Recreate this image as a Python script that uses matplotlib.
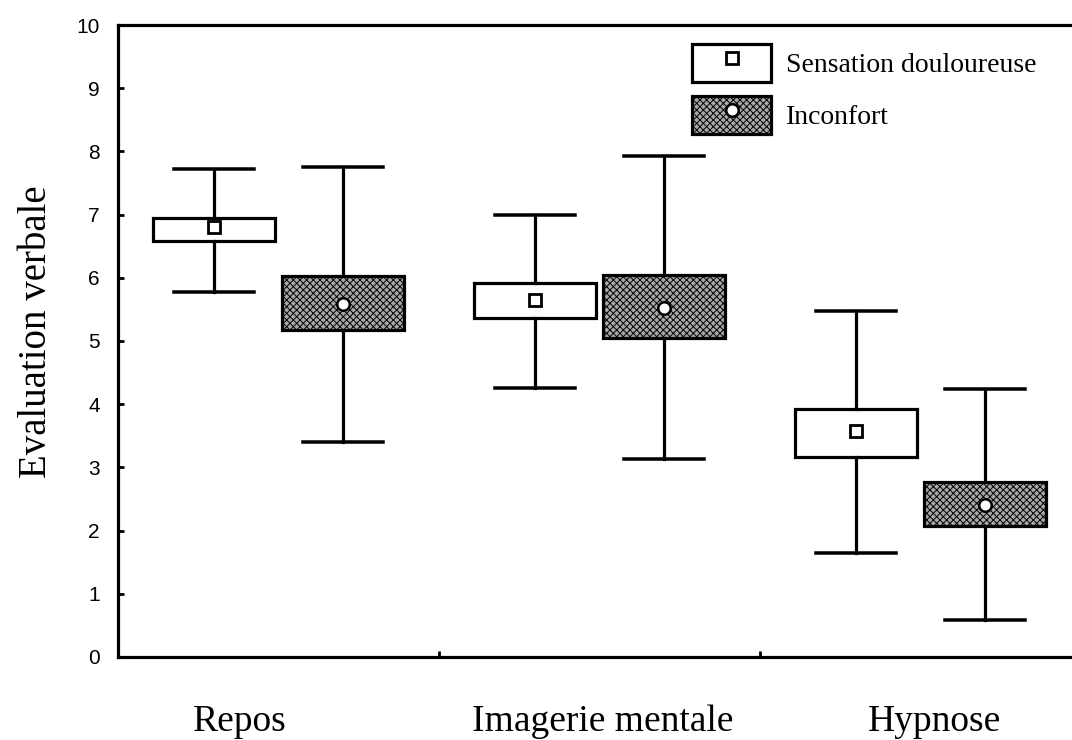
import matplotlib
matplotlib.use("Agg")
import matplotlib.pyplot as plt
from matplotlib.patches import Patch
from matplotlib.lines import Line2D
from matplotlib.legend_handler import HandlerTuple

# Data (verbal rating, 0-10)
conditions = ["Repos", "Imagerie mentale", "Hypnose"]
series = ["Sensation douloureuse", "Inconfort"]

# per series: one value per condition
sens_mean = [6.80, 5.65, 3.58]
sens_box_lo = [6.58, 5.36, 3.17]
sens_box_hi = [6.95, 5.91, 3.93]
sens_whis_lo = [5.78, 4.25, 1.64]
sens_whis_hi = [7.72, 6.99, 5.48]

inc_mean = [5.58, 5.52, 2.41]
inc_box_lo = [5.17, 5.05, 2.08]
inc_box_hi = [6.03, 6.05, 2.77]
inc_whis_lo = [3.40, 3.14, 0.59]
inc_whis_hi = [7.75, 7.93, 4.24]

plt.rcParams["hatch.linewidth"] = 0.7

fig = plt.figure(figsize=(10.72, 7.40), dpi=100)
ax = fig.add_axes([0.110, 0.1122, 0.890, 0.854])

serif = ["Liberation Serif", "DejaVu Serif"]
sans = ["Liberation Sans", "DejaVu Sans"]


def make_stats(mean, lo, hi, wlo, whi):
    return [dict(med=m, mean=m, q1=a, q3=b, whislo=c, whishi=d)
            for m, a, b, c, d in zip(mean, lo, hi, wlo, whi)]


centers = [i + 0.5 for i in range(len(conditions))]
offset = 0.2
width = 0.38
capw = 0.25
lw = 2.3

common = dict(widths=width, capwidths=capw, showmeans=True, showfliers=False,
              patch_artist=True, manage_ticks=False,
              whiskerprops=dict(color="black", lw=lw),
              capprops=dict(color="black", lw=lw * 1.1),
              medianprops=dict(lw=0))

ax.bxp(make_stats(sens_mean, sens_box_lo, sens_box_hi, sens_whis_lo, sens_whis_hi),
       positions=[c - offset for c in centers],
       boxprops=dict(facecolor="white", edgecolor="black", lw=lw),
       meanprops=dict(marker="s", markerfacecolor="white", markeredgecolor="black",
                      markersize=9, markeredgewidth=2),
       **common)

ax.bxp(make_stats(inc_mean, inc_box_lo, inc_box_hi, inc_whis_lo, inc_whis_hi),
       positions=[c + offset for c in centers],
       boxprops=dict(facecolor="#a8a8a8", edgecolor="black", lw=lw, hatch="xxxxx"),
       meanprops=dict(marker="o", markerfacecolor="white", markeredgecolor="black",
                      markersize=9, markeredgewidth=1.8),
       **common)

ax.set_xlim(0, 954 / 321)
ax.set_ylim(0, 10)

for side in ["left", "bottom", "top"]:
    ax.spines[side].set_linewidth(2.3)
ax.spines["right"].set_visible(False)

ax.set_yticks(range(0, 11))
ax.tick_params(axis="y", direction="in", length=4, width=2, pad=13, labelsize=15)
for t in ax.get_yticklabels():
    t.set_fontfamily(sans)

ax.set_xticks([1, 2], ["", ""])
ax.tick_params(axis="x", which="major", direction="in", length=4, width=2)
ax.set_xticks([0.38, 1.51, 2.545], conditions, minor=True)
ax.tick_params(axis="x", which="minor", length=0, pad=47, labelsize=27)
for t in ax.get_xticklabels(minor=True):
    t.set_fontfamily(serif)
    t.set_verticalalignment("center")

ax.set_ylabel("Evaluation verbale", fontsize=28, fontfamily=serif)
ax.yaxis.set_label_coords(-0.066, 0.515)

# legend: box patch with the mean marker on top
h1 = (Patch(facecolor="white", edgecolor="black", lw=2.3),
      Line2D([], [], ls="none", marker="s", markerfacecolor="white",
             markeredgecolor="black", markersize=9, markeredgewidth=2))
h2 = (Patch(facecolor="#a8a8a8", edgecolor="black", lw=2.3, hatch="xxxxx"),
      Line2D([], [], ls="none", marker="o", markerfacecolor="white",
             markeredgecolor="black", markersize=9, markeredgewidth=1.8))
ax.legend([h1, h2], series, handler_map={tuple: HandlerTuple(ndivide=1)},
          loc="upper left", bbox_to_anchor=(0.59, 0.988), frameon=False,
          prop=dict(family=serif, size=20), handlelength=2.85, handleheight=1.75,
          labelspacing=0.5, handletextpad=0.55, borderaxespad=0)

fig.savefig("out.png", dpi=100)
